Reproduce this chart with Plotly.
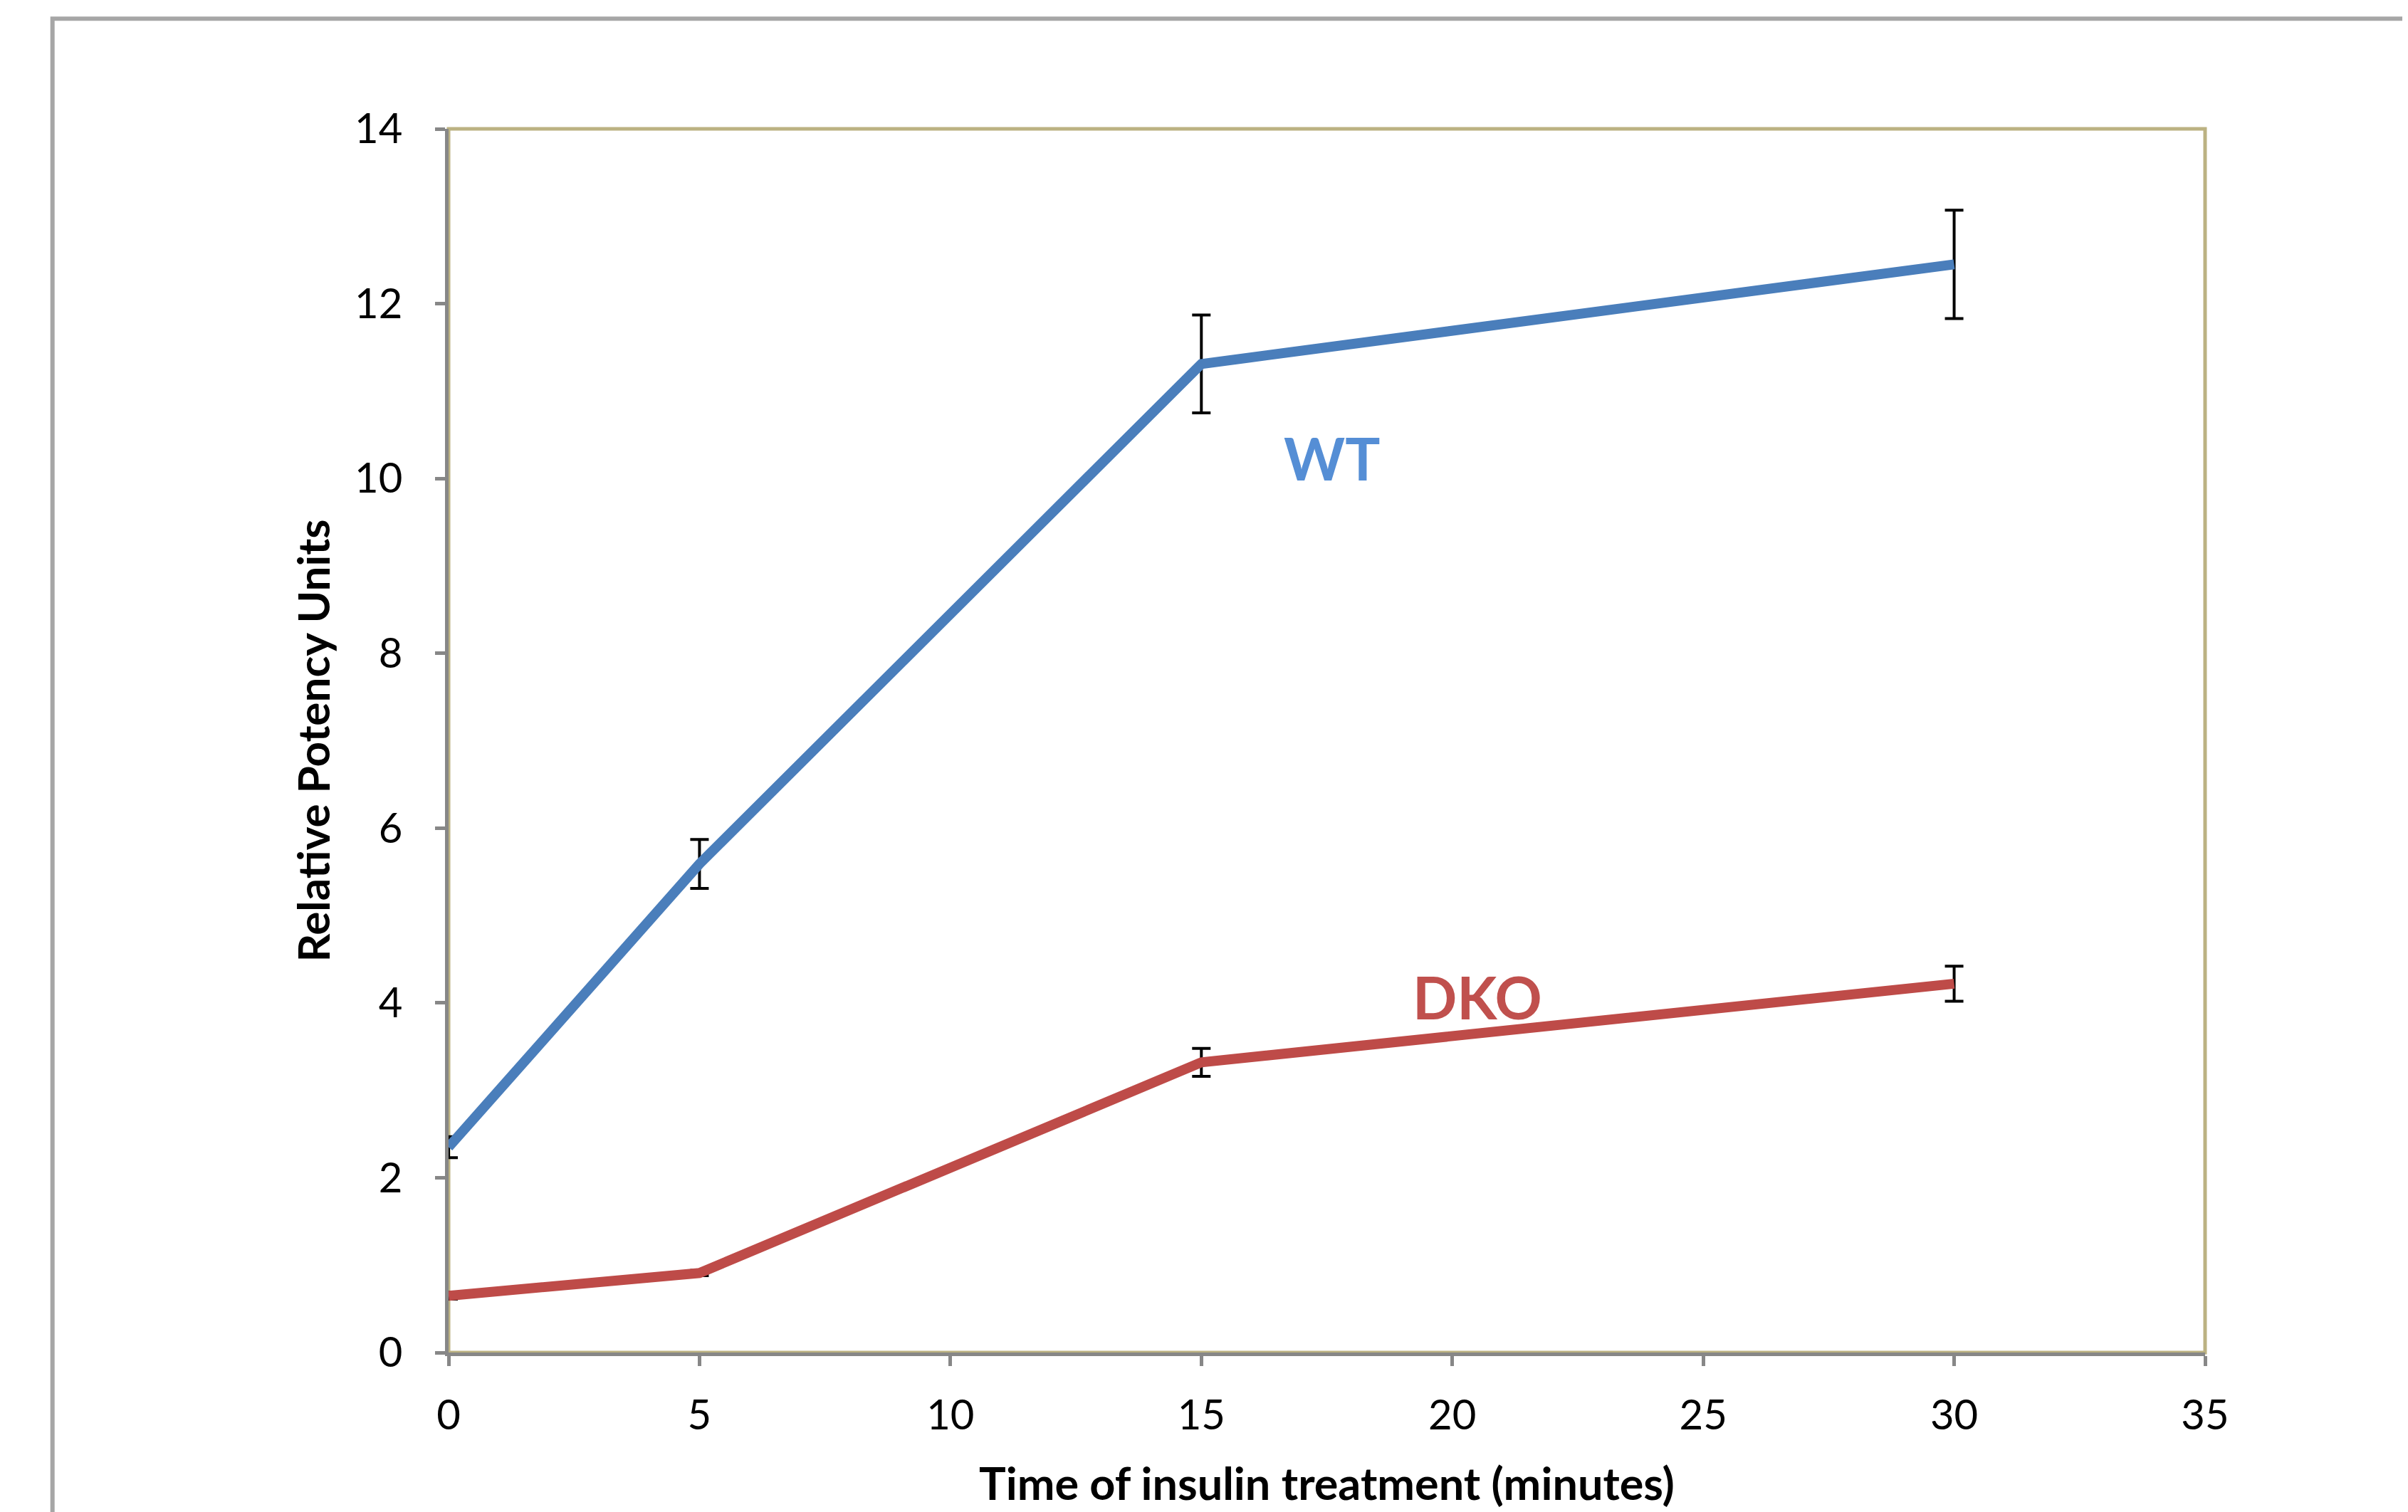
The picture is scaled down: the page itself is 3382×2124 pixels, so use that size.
import plotly.graph_objects as go

time_min = [0, 5, 15, 30]
wt_values = [2.35, 5.59, 11.31, 12.45]
wt_errors = [0.12, 0.28, 0.56, 0.62]
dko_values = [0.65, 0.91, 3.32, 4.22]
dko_errors = [0.04, 0.03, 0.16, 0.20]
x_ticks = [0, 5, 10, 15, 20, 25, 30, 35]
y_ticks = [0, 2, 4, 6, 8, 10, 12, 14]

FONT = "Lato"
fig = go.Figure()

fig.add_trace(go.Scatter(
    x=time_min, y=wt_values, mode="lines", name="WT",
    line=dict(color="#4a7ebb", width=14),
    error_y=dict(type="data", array=wt_errors, visible=True,
                 color="#000000", thickness=4, width=13),
))
fig.add_trace(go.Scatter(
    x=time_min, y=dko_values, mode="lines", name="DKO",
    line=dict(color="#be4b48", width=14),
    error_y=dict(type="data", array=dko_errors, visible=True,
                 color="#000000", thickness=4, width=13),
))

fig.add_annotation(x=17.6, y=10.24, text="<b>WT</b>", showarrow=False,
                   font=dict(family=FONT, size=82, color="#558ed5"))
fig.add_annotation(x=20.5, y=4.07, text="<b>DKO</b>", showarrow=False,
                   font=dict(family=FONT, size=82, color="#c0504d"))

# plot-area border (top/right khaki)
fig.add_shape(type="rect", xref="paper", yref="paper", x0=0, y0=0, x1=1, y1=1,
              line=dict(color="#bcb282", width=5), layer="below")
# outer slide frame
fig.add_shape(type="path", xref="paper", yref="paper",
              path="M 1.3,1.09 L -0.2255,1.09 L -0.2255,-0.3",
              line=dict(color="#a6a6a6", width=6))

fig.update_xaxes(
    range=[0, 35], tickvals=x_ticks, ticktext=[str(v) for v in x_ticks],
    showgrid=False, zeroline=False, showline=True, linecolor="#878787", linewidth=5,
    ticks="outside", ticklen=14, tickwidth=5, tickcolor="#878787",
    ticklabelstandoff=19,
    tickfont=dict(family=FONT, size=58, color="#000000"),
    title=dict(text="<b>Time of insulin treatment (minutes)</b>", standoff=46,
               font=dict(family=FONT, size=63, color="#000000")),
)
fig.update_yaxes(
    range=[0, 14], tickvals=y_ticks, ticktext=[str(v) for v in y_ticks],
    showgrid=False, zeroline=False, showline=True, linecolor="#878787", linewidth=5,
    ticks="outside", ticklen=14, tickwidth=5, tickcolor="#878787",
    ticklabelstandoff=34,
    tickfont=dict(family=FONT, size=58, color="#000000"),
    title=dict(text="<b>Relative Potency Units</b>", standoff=16,
               font=dict(family=FONT, size=62, color="#000000")),
)

fig.update_layout(
    width=3382, height=2124,
    margin=dict(l=622, r=293, t=173, b=232),
    paper_bgcolor="#ffffff", plot_bgcolor="#ffffff",
    showlegend=False,
)

fig.write_html("out.html")
